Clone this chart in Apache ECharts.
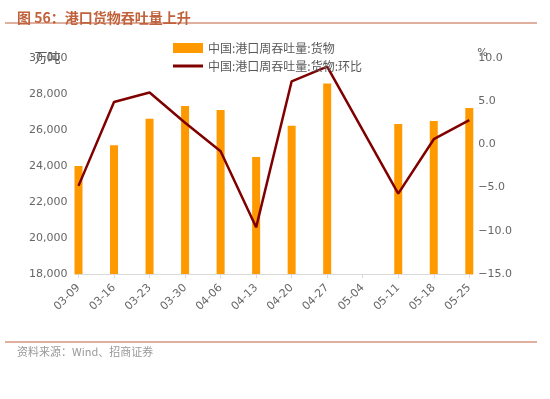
<!DOCTYPE html>
<html>
<head>
<meta charset="utf-8">
<script src="https://cdn.jsdelivr.net/npm/echarts@6/dist/echarts.min.js"></script>
<style>
  html, body { margin: 0; padding: 0; background: #fff; }
  #chart { width: 550px; height: 399px; }
</style>
</head>
<body>
<div id="chart"></div>
<script>
// 周度日期
const categories = ['03-09', '03-16', '03-23', '03-30', '04-06', '04-13', '04-20', '04-27', '05-04', '05-11', '05-18', '05-25']
// 中国:港口周吞吐量:货物 (万吨)
const throughput = [24000, 25150, 26630, 27330, 27110, 24500, 26240, 28590, null, 26330, 26500, 27220]
// 中国:港口周吞吐量:货物:环比 (%)
const wowChange = [-4.8, 4.9, 6.0, 2.5, -0.8, -9.6, 7.3, 9.0, null, -5.7, 0.6, 2.8]
// 坐标轴刻度
const leftTicks = [18000, 20000, 22000, 24000, 26000, 28000, 30000]
const rightTicks = [-15, -10, -5, 0, 5, 10]

const seriesNames = ['中国:港口周吞吐量:货物', '中国:港口周吞吐量:货物:环比']

const chart = echarts.init(document.getElementById('chart'))
const labelFont = 'DejaVu Sans, Noto Sans CJK SC, sans-serif'
const cjkFont = 'Noto Sans CJK SC, sans-serif'

const option = {
  backgroundColor: '#fff',
  animation: false,
  title: [{
    text: '图 56：港口货物吞吐量上升',
    left: 12,
    top: 6,
    z: 20,
    textStyle: { color: '#c0623c', fontSize: 14, fontWeight: 'bold', fontFamily: cjkFont }
  }, {
    text: '资料来源：Wind、招商证券',
    left: 12,
    top: 341,
    z: 20,
    textStyle: { color: '#999', fontSize: 11, fontWeight: 'normal', fontFamily: cjkFont }
  }],
  graphic: [
    // 柱子从 0 起画, 遮住绘图区下方溢出部分
    { type: 'rect', z: 5, shape: { x: 0, y: 274.6, width: 550, height: 130 }, style: { fill: '#fff' } },
    { type: 'line', z: 20, shape: { x1: 5, y1: 23, x2: 537, y2: 23 }, style: { stroke: '#d49580', lineWidth: 1.5 } },
    { type: 'line', z: 20, shape: { x1: 5, y1: 342, x2: 537, y2: 342 }, style: { stroke: '#d49580', lineWidth: 1.5 } }
  ],
  legend: {
    orient: 'vertical',
    left: 168,
    top: 37,
    itemWidth: 30,
    itemHeight: 10,
    itemGap: 6,
    textStyle: { color: '#595959', fontSize: 12, fontFamily: cjkFont },
    data: [
      { name: seriesNames[0], icon: 'rect' },
      { name: seriesNames[1], icon: 'path://M0,0 L30,0 L30,3 L0,3 Z' }
    ]
  },
  grid: {
    left: 78.5,
    right: 80.7,
    top: 58,
    bottom: 125
  },
  xAxis: {
    type: 'category',
    boundaryGap: false,
    data: categories,
    z: 10,
    axisLine: { show: true, onZero: false, lineStyle: { color: '#d9d9d9' } },
    axisTick: { show: true, length: 4, lineStyle: { color: '#d9d9d9' } },
    axisLabel: {
      rotate: 45,
      interval: 0,
      margin: 12,
      color: '#666',
      fontSize: 11,
      fontFamily: labelFont
    },
    splitLine: { show: false }
  },
  yAxis: [{
    type: 'value',
    z: 10,
    min: leftTicks[0],
    max: leftTicks[leftTicks.length - 1],
    interval: leftTicks[1] - leftTicks[0],
    name: '万吨',
    nameLocation: 'end',
    nameGap: 1,
    nameMoveOverlap: false,
    nameTextStyle: { color: '#595959', fontSize: 13, fontFamily: cjkFont, align: 'right', verticalAlign: 'middle', padding: [0, 18, 0, 0] },
    axisLine: { show: false },
    axisTick: { show: false },
    splitLine: { show: false },
    axisLabel: { color: '#666', fontSize: 11, fontFamily: labelFont, margin: 11 }
  }, {
    type: 'value',
    z: 10,
    min: rightTicks[0],
    max: rightTicks[rightTicks.length - 1],
    interval: rightTicks[1] - rightTicks[0],
    name: '%',
    nameLocation: 'end',
    nameGap: 5,
    nameMoveOverlap: false,
    nameTextStyle: { color: '#595959', fontSize: 11, fontFamily: labelFont, align: 'left', verticalAlign: 'middle', padding: [0, 0, 0, 8] },
    axisLine: { show: false },
    axisTick: { show: false },
    splitLine: { show: false },
    axisLabel: {
      color: '#666',
      fontSize: 11,
      fontFamily: labelFont,
      margin: 9,
      formatter: function (value) {
        return value.toFixed(1).replace('-', '−')
      }
    }
  }],
  series: [{
    name: seriesNames[0],
    type: 'bar',
    barWidth: 8,
    clip: false,
    itemStyle: { color: '#ff9900' },
    data: throughput
  }, {
    name: seriesNames[1],
    type: 'line',
    yAxisIndex: 1,
    symbol: 'none',
    connectNulls: true,
    lineStyle: { color: '#800000', width: 2.5 },
    itemStyle: { color: '#800000' },
    data: wowChange
  }]
}
chart.setOption(option)
</script>
</body>
</html>
